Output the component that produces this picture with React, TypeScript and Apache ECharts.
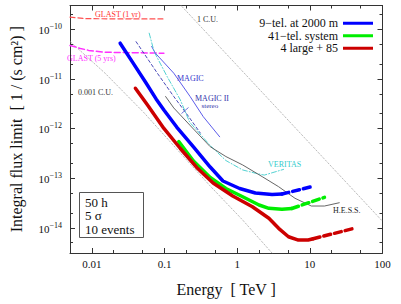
import React, { useEffect, useRef } from "react";
import * as echarts from "echarts";

const FONT = "Liberation Serif";

// axes
const xRange = [0.005, 100];
const yRange = [3.1e-15, 3.0e-10];
const xTickValues = [0.01, 0.1, 1, 10, 100];
const xTickLabels = ["0.01", "0.1", "1", "10", "100"];
const xMinorTicks = [0.02, 0.05, 0.2, 0.5, 2, 5, 20, 50];
const yTickExponents = [-14, -13, -12, -11, -10];
const yMinorTicks = [5e-15, 2e-14, 5e-14, 2e-13, 5e-13, 2e-12, 5e-12, 2e-11, 5e-11, 2e-10];

// 9-tel. at 2000 m
const tel9E = [0.0245, 0.037, 0.056, 0.0765, 0.098, 0.147, 0.25, 0.425, 0.637, 1.08, 1.78, 3.02, 4.13];
const tel9F = [5.22e-11, 2.07e-11, 8.15e-12, 3.94e-12, 2.36e-12, 1.07e-12, 4.24e-13, 1.67e-13, 8.75e-14, 6.17e-14, 5.0e-14, 4.67e-14, 4.78e-14];
const tel9ExtE = [4.13, 10.5];
const tel9ExtF = [4.78e-14, 6.7e-14];

// 41-tel. system
const tel41E = [0.157, 0.25, 0.425, 0.699, 1.19, 2.0, 2.73, 4.13, 5.64];
const tel41F = [5.42e-13, 2.21e-13, 1.03e-13, 6.17e-14, 4.22e-14, 2.87e-14, 2.46e-14, 2.35e-14, 2.44e-14];
const tel41ExtE = [5.64, 15.9];
const tel41ExtF = [2.44e-14, 4.1e-14];

// 4 large + 85
const largeE = [0.0397, 0.0583, 0.098, 0.165, 0.277, 0.466, 0.869, 1.62, 2.73, 3.72, 5.08, 6.95, 9.48, 11.1];
const largeF = [6.46e-12, 2.98e-12, 1.0e-12, 3.95e-13, 1.64e-13, 7.96e-14, 4.35e-14, 2.65e-14, 1.55e-14, 9.73e-15, 6.59e-15, 5.65e-15, 5.65e-15, 6.0e-15];
const largeExtE = [11.1, 40.5];
const largeExtF = [6.0e-15, 9.73e-15];

// GLAST
const glast1E = [0.005, 0.0081, 0.03, 0.1];
const glast1F = [1.75e-10, 1.63e-10, 1.61e-10, 1.61e-10];
const glast5E = [0.005, 0.00695, 0.009, 0.0151, 0.098];
const glast5F = [4.71e-11, 4.1e-11, 3.74e-11, 3.43e-11, 3.28e-11];

// MAGIC
const magicE = [0.0665, 0.0742, 0.134, 0.225, 0.341, 0.574];
const magicF = [4.5e-11, 3.33e-11, 1.3e-11, 4.4e-12, 1.73e-12, 6.8e-13];
// MAGIC II stereo
const magic2E = [0.0406, 0.0796, 0.134, 0.207, 0.311];
const magic2F = [5.6e-11, 1.3e-11, 4.4e-12, 1.87e-12, 8.1e-13];
// VERITAS
const veritasE = [0.0615, 0.072, 0.109, 0.165, 0.221, 0.425, 0.699, 1.19, 1.8, 2.36, 3.02, 4.35];
const veritasF = [8.3e-11, 3.5e-11, 1.1e-11, 3.76e-12, 1.35e-12, 4.54e-13, 2.26e-13, 1.46e-13, 1.25e-13, 1.15e-13, 1.28e-13, 1.5e-13];
// H.E.S.S.
const hessE = [0.1035, 0.134, 0.25, 0.425, 0.699, 1.19, 2.21, 3.72, 6.25, 10.5, 15.9, 25.4];
const hessF = [4.4e-12, 2.59e-12, 9.77e-13, 4.3e-13, 2.72e-13, 1.84e-13, 1.07e-13, 6.71e-14, 3.92e-14, 2.74e-14, 2.74e-14, 3.19e-14];

// Crab unit reference lines
const cu1E = [0.15, 1, 10, 100];
const cu1F = [3.6e-10, 1.85e-11, 5.0e-13, 1.35e-14];
const cu0001E = [0.00508, 0.0151, 0.0526, 0.147, 0.425, 1.19, 3.02, 4.0];
const cu0001F = [5.55e-11, 1.31e-11, 2.05e-12, 3.86e-13, 6.93e-14, 1.43e-14, 3.09e-15, 2.0e-15];

const L = (v: number) => Math.log10(v);
const pts = (E: number[], F: number[]) => E.map((e, i) => [L(e), L(F[i])]);

export default function App() {
  const ref = useRef<HTMLDivElement>(null);
  useEffect(() => {
    if (!ref.current) return;
    const chart = echarts.init(ref.current, undefined, { renderer: "svg" });
    const axisColor = "#333";
    const xBase = (position: string, ticks: number[], len: number, labels: boolean, line: boolean) => ({
      type: "value",
      position,
      min: L(xRange[0]),
      max: L(xRange[1]),
      splitLine: { show: false },
      axisLine: { show: line, onZero: false, lineStyle: { color: axisColor, width: 1 } },
      axisTick: { show: true, inside: true, length: len, customValues: ticks.map(L), lineStyle: { color: axisColor, width: 1 } },
      axisLabel: labels
        ? {
            show: true,
            customValues: xTickValues.map(L),
            margin: 5,
            fontSize: 11,
            fontFamily: FONT,
            color: "#111",
            formatter: (v: number) => {
              const i = xTickValues.findIndex((t) => Math.abs(L(t) - v) < 1e-6);
              return i >= 0 ? xTickLabels[i] : "";
            },
          }
        : { show: false },
    });
    const yBase = (position: string, ticks: number[], len: number, labels: boolean, line: boolean) => ({
      type: "value",
      position,
      min: L(yRange[0]),
      max: L(yRange[1]),
      splitLine: { show: false },
      axisLine: { show: line, onZero: false, lineStyle: { color: axisColor, width: 1 } },
      axisTick: { show: true, inside: true, length: len, customValues: ticks, lineStyle: { color: axisColor, width: 1 } },
      axisLabel: labels
        ? {
            show: true,
            customValues: yTickExponents,
            margin: 8,
            formatter: (v: number) => `{b|10}{s|\u2212${Math.abs(Math.round(v))}}`,
            rich: {
              b: { fontSize: 11, fontFamily: FONT, color: "#111", lineHeight: 13, verticalAlign: "bottom" },
              s: { fontSize: 8, fontFamily: FONT, color: "#111", lineHeight: 8, verticalAlign: "top" },
            },
          }
        : { show: false },
    });

    const line = (name: string, data: number[][], color: string, width: number, type: any, z = 2) => ({
      type: "line",
      name,
      data,
      color,
      symbol: "none",
      silent: true,
      z,
      lineStyle: { color, width, type, join: "round", cap: "round" },
    });

    const txt = (text: string, x: number, y: number, fill: string, size = 8) => ({
      type: "text",
      x,
      y,
      style: { text, fill, fontSize: size, fontFamily: FONT, textVerticalAlign: "middle" },
    });

    const thick = 3.5;
    const dashThick = [7, 4];

    chart.setOption({
      animation: false,
      grid: { left: 64.5, top: 5.5, width: 318, height: 247.5, containLabel: false },
      xAxis: [
        {
          ...xBase("bottom", xTickValues, 5, true, true),
          name: "Energy  [ TeV ]",
          nameLocation: "middle",
          nameGap: 28,
          nameTextStyle: { fontSize: 16, fontFamily: FONT, color: "#111" },
        },
        xBase("bottom", xMinorTicks, 3, false, false),
        xBase("top", xTickValues, 5, false, true),
        xBase("top", xMinorTicks, 3, false, false),
      ],
      yAxis: [
        {
          ...yBase("left", yTickExponents, 5, true, true),
          name: "Integral flux limit  [ 1 / (s cm\u00b2) ]",
          nameLocation: "middle",
          nameGap: 46,
          nameTextStyle: { fontSize: 16, fontFamily: FONT, color: "#111" },
        },
        yBase("left", yMinorTicks.map(L), 3, false, false),
        yBase("right", yTickExponents, 5, false, true),
        yBase("right", yMinorTicks.map(L), 3, false, false),
      ],
      legend: {
        data: ["9\u2212tel. at 2000 m", "41\u2212tel. system", "4 large + 85"],
        orient: "vertical",
        align: "right",
        right: 28,
        top: 17,
        padding: 0,
        itemGap: 0,
        itemWidth: 30,
        itemHeight: 3,
        icon: "rect",
        textStyle: { fontSize: 12, fontFamily: FONT, color: "#111", lineHeight: 12.5 },
      },
      series: [
        line("1 C.U.", pts(cu1E, cu1F), "#aaaaaa", 0.8, [1.5, 2]),
        line("0.001 C.U.", pts(cu0001E, cu0001F), "#aaaaaa", 0.8, [1.5, 2]),
        line("GLAST (1 yr)", pts(glast1E, glast1F), "#ff5050", 1.2, [5, 3]),
        line("GLAST (5 yrs)", pts(glast5E, glast5F), "#ff30ff", 1.5, [6, 3]),
        line("MAGIC", pts(magicE, magicF), "#4a4ae8", 0.9, "solid"),
        line("MAGIC II stereo", pts(magic2E, magic2F), "#3434b0", 0.9, [3, 2.5]),
        line("VERITAS", pts(veritasE, veritasF), "#40cccc", 0.9, [5, 2, 1, 2]),
        line("H.E.S.S.", pts(hessE, hessF), "#555555", 0.9, "solid"),
        line("41\u2212tel. system", pts(tel41E, tel41F), "#00ee00", thick, "solid", 3),
        line("41-tel ext", pts(tel41ExtE, tel41ExtF), "#00ee00", thick, dashThick, 3),
        line("9\u2212tel. at 2000 m", pts(tel9E, tel9F), "#0000ff", thick, "solid", 3),
        line("9-tel ext", pts(tel9ExtE, tel9ExtF), "#0000ff", thick, dashThick, 3),
        line("4 large + 85", pts(largeE, largeF), "#cc0000", thick, "solid", 3),
        line("4 large ext", pts(largeExtE, largeExtF), "#cc0000", thick, dashThick, 3),
      ],
      graphic: [
        txt("GLAST (1 yr)", 95, 14, "#ff3030"),
        txt("GLAST (5 yrs)", 67, 58.5, "#ff30ff"),
        txt("1 C.U.", 197, 19.5, "#333"),
        txt("0.001 C.U.", 78, 92.5, "#333"),
        txt("MAGIC", 177, 78.5, "#3333cc"),
        txt("MAGIC II", 195, 98.3, "#3333aa"),
        txt("stereo", 201.5, 105.5, "#3333aa", 7),
        { type: "line", shape: { x1: 188.5, y1: 107.5, x2: 181.5, y2: 113.5 }, style: { stroke: "#3333cc", lineWidth: 0.7 } },
        txt("VERITAS", 268, 164, "#33cccc"),
        txt("H.E.S.S.", 333, 210.5, "#222"),
        {
          type: "group",
          children: [
            { type: "rect", shape: { x: 79.5, y: 192.5, width: 64, height: 45 }, style: { fill: "#fff", stroke: "#555", lineWidth: 1 } },
            txt("50 h", 85, 202, "#111", 13),
            txt("5 \u03c3", 85, 215.5, "#111", 13),
            txt("10 events", 85, 229, "#111", 13),
          ],
        },
      ],
    });
    return () => chart.dispose();
  }, []);
  return <div ref={ref} style={{ position: "fixed", left: 0, top: 0, width: 401, height: 304, background: "#fff" }} />;
}
